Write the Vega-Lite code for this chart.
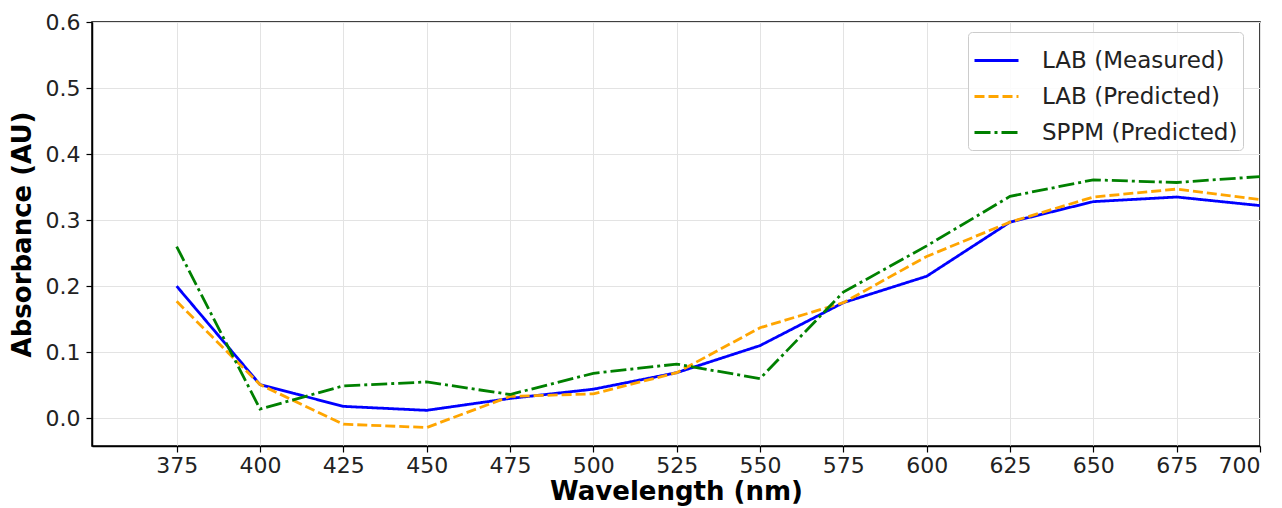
{
  "$schema": "https://vega.github.io/schema/vega-lite/v6.json",
  "width": 1168,
  "height": 424,
  "autosize": {"type": "none"},
  "padding": {"left": 92, "top": 22, "right": 22, "bottom": 62},
  "background": "white",
  "config": {
    "font": "DejaVu Sans",
    "view": {"stroke": "black", "strokeWidth": 1.5},
    "axis": {
      "grid": true,
      "gridColor": "#e3e3e3",
      "gridWidth": 1,
      "domainColor": "black",
      "domainWidth": 1.5,
      "tickColor": "black",
      "tickSize": 6,
      "tickWidth": 1.2,
      "labelFont": "DejaVu Sans",
      "labelFontSize": 22,
      "labelColor": "#222222",
      "titleFont": "DejaVu Sans",
      "titleFontSize": 26,
      "titleFontWeight": "bold",
      "titleColor": "black"
    }
  },
  "data": {
    "values": [
      {"wavelength": 375, "series": "LAB (Measured)", "absorbance": 0.200},
      {"wavelength": 400, "series": "LAB (Measured)", "absorbance": 0.051},
      {"wavelength": 425, "series": "LAB (Measured)", "absorbance": 0.018},
      {"wavelength": 450, "series": "LAB (Measured)", "absorbance": 0.012},
      {"wavelength": 475, "series": "LAB (Measured)", "absorbance": 0.030},
      {"wavelength": 500, "series": "LAB (Measured)", "absorbance": 0.044},
      {"wavelength": 525, "series": "LAB (Measured)", "absorbance": 0.069},
      {"wavelength": 550, "series": "LAB (Measured)", "absorbance": 0.110},
      {"wavelength": 575, "series": "LAB (Measured)", "absorbance": 0.175},
      {"wavelength": 600, "series": "LAB (Measured)", "absorbance": 0.215},
      {"wavelength": 625, "series": "LAB (Measured)", "absorbance": 0.297},
      {"wavelength": 650, "series": "LAB (Measured)", "absorbance": 0.328},
      {"wavelength": 675, "series": "LAB (Measured)", "absorbance": 0.335},
      {"wavelength": 700, "series": "LAB (Measured)", "absorbance": 0.322},
      {"wavelength": 375, "series": "LAB (Predicted)", "absorbance": 0.177},
      {"wavelength": 400, "series": "LAB (Predicted)", "absorbance": 0.051},
      {"wavelength": 425, "series": "LAB (Predicted)", "absorbance": -0.009},
      {"wavelength": 450, "series": "LAB (Predicted)", "absorbance": -0.014},
      {"wavelength": 475, "series": "LAB (Predicted)", "absorbance": 0.033},
      {"wavelength": 500, "series": "LAB (Predicted)", "absorbance": 0.037},
      {"wavelength": 525, "series": "LAB (Predicted)", "absorbance": 0.069},
      {"wavelength": 550, "series": "LAB (Predicted)", "absorbance": 0.137},
      {"wavelength": 575, "series": "LAB (Predicted)", "absorbance": 0.175},
      {"wavelength": 600, "series": "LAB (Predicted)", "absorbance": 0.245},
      {"wavelength": 625, "series": "LAB (Predicted)", "absorbance": 0.297},
      {"wavelength": 650, "series": "LAB (Predicted)", "absorbance": 0.335},
      {"wavelength": 675, "series": "LAB (Predicted)", "absorbance": 0.347},
      {"wavelength": 700, "series": "LAB (Predicted)", "absorbance": 0.331},
      {"wavelength": 375, "series": "SPPM (Predicted)", "absorbance": 0.260},
      {"wavelength": 400, "series": "SPPM (Predicted)", "absorbance": 0.014},
      {"wavelength": 425, "series": "SPPM (Predicted)", "absorbance": 0.049},
      {"wavelength": 450, "series": "SPPM (Predicted)", "absorbance": 0.055},
      {"wavelength": 475, "series": "SPPM (Predicted)", "absorbance": 0.036},
      {"wavelength": 500, "series": "SPPM (Predicted)", "absorbance": 0.068},
      {"wavelength": 525, "series": "SPPM (Predicted)", "absorbance": 0.082},
      {"wavelength": 550, "series": "SPPM (Predicted)", "absorbance": 0.060},
      {"wavelength": 575, "series": "SPPM (Predicted)", "absorbance": 0.191},
      {"wavelength": 600, "series": "SPPM (Predicted)", "absorbance": 0.261},
      {"wavelength": 625, "series": "SPPM (Predicted)", "absorbance": 0.336},
      {"wavelength": 650, "series": "SPPM (Predicted)", "absorbance": 0.361},
      {"wavelength": 675, "series": "SPPM (Predicted)", "absorbance": 0.357},
      {"wavelength": 700, "series": "SPPM (Predicted)", "absorbance": 0.366}
    ]
  },
  "mark": {"type": "line", "strokeWidth": 2.8, "clip": true},
  "encoding": {
    "x": {
      "field": "wavelength",
      "type": "quantitative",
      "scale": {"domain": [349.6, 700], "nice": false, "zero": false},
      "axis": {
        "title": "Wavelength (nm)",
        "values": [375, 400, 425, 450, 475, 500, 525, 550, 575, 600, 625, 650, 675, 700],
        "labelPadding": 3,
        "titlePadding": 2
      }
    },
    "y": {
      "field": "absorbance",
      "type": "quantitative",
      "scale": {"domain": [-0.042, 0.6], "nice": false, "zero": false},
      "axis": {
        "title": "Absorbance (AU)",
        "values": [0, 0.1, 0.2, 0.3, 0.4, 0.5, 0.6],
        "format": ".1f",
        "labelPadding": 6,
        "titlePadding": 10
      }
    },
    "color": {
      "field": "series",
      "type": "nominal",
      "sort": ["LAB (Measured)", "LAB (Predicted)", "SPPM (Predicted)"],
      "scale": {
        "domain": ["LAB (Measured)", "LAB (Predicted)", "SPPM (Predicted)"],
        "range": ["#0000ff", "#ffa500", "#008000"]
      },
      "legend": {
        "title": null,
        "orient": "none",
        "legendX": 876,
        "legendY": 10,
        "padding": 5,
        "fillColor": "rgba(255,255,255,0.85)",
        "strokeColor": "#cccccc",
        "cornerRadius": 4,
        "symbolType": "stroke",
        "symbolSize": 1936,
        "symbolStrokeWidth": 3,
        "labelFontSize": 23,
        "labelFont": "DejaVu Sans",
        "labelColor": "#222222",
        "labelLimit": 400,
        "labelOffset": 22,
        "rowPadding": -13
      }
    },
    "strokeDash": {
      "field": "series",
      "type": "nominal",
      "sort": ["LAB (Measured)", "LAB (Predicted)", "SPPM (Predicted)"],
      "scale": {
        "domain": ["LAB (Measured)", "LAB (Predicted)", "SPPM (Predicted)"],
        "range": [[1, 0], [10, 4], [16, 4, 3, 4]]
      },
      "legend": null
    }
  }
}
